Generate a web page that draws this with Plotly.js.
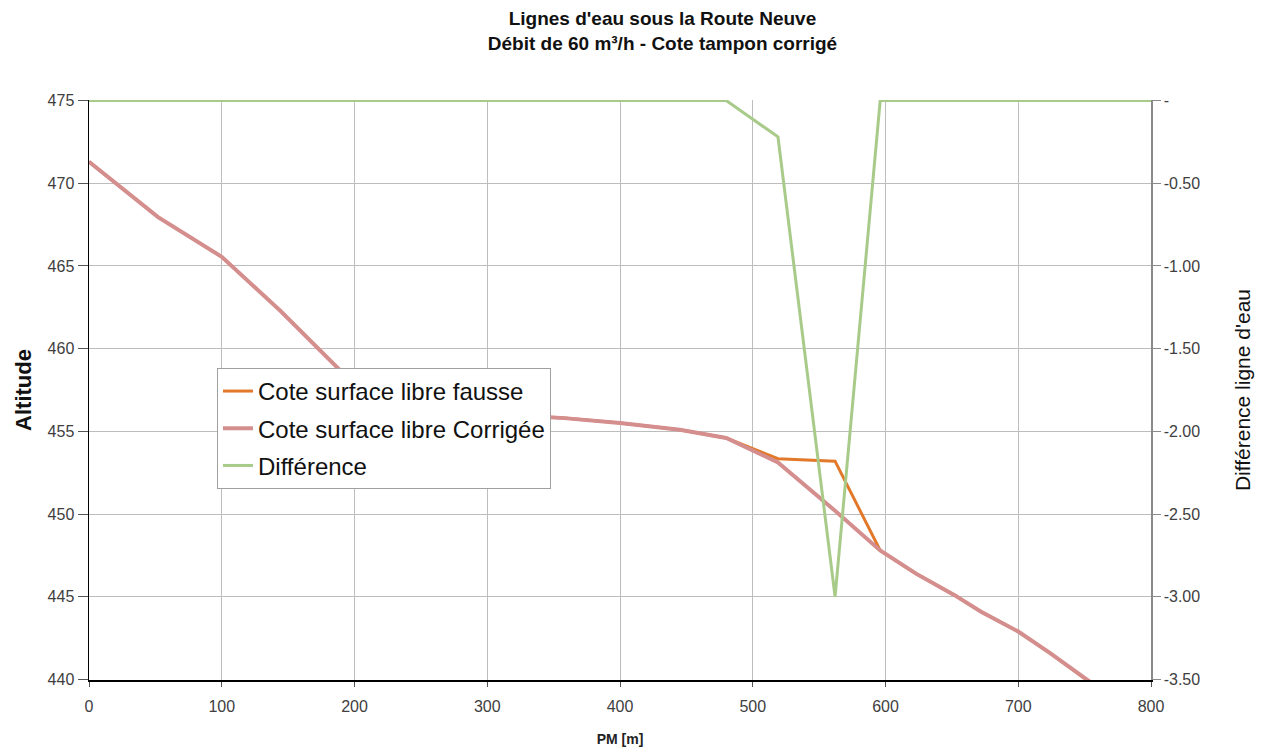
<!DOCTYPE html>
<html>
<head>
<meta charset="utf-8">
<script src="https://cdn.plot.ly/plotly-3.0.1.min.js"></script>
<style>html,body{margin:0;padding:0;background:#fff;}#chart{width:1269px;height:754px;}</style>
</head>
<body>
<div id="chart"></div>
<script>
// PM [m]
var pm = [0, 52, 100, 144, 189, 212, 250, 300, 358, 400, 445, 480, 519, 562, 596, 623, 652, 672, 700, 724, 751, 800];
// Cote surface libre fausse
var coteFausse = [471.3, 467.95, 465.55, 462.3, 458.7, 456.9, 456.3, 456.05, 455.8, 455.5, 455.1, 454.6, 453.35, 453.2, 447.8, 446.4, 445.1, 444.1, 442.9, 441.6, 440.0, 437.2];
// Cote surface libre Corrigée
var coteCorrigee = [471.3, 467.95, 465.55, 462.3, 458.7, 456.9, 456.3, 456.05, 455.8, 455.5, 455.1, 454.6, 453.12, 450.2, 447.8, 446.4, 445.1, 444.1, 442.9, 441.6, 440.0, 437.2];
// Différence
var difference = [0, 0, 0, 0, 0, 0, 0, 0, 0, 0, 0, 0, -0.22, -3.0, 0, 0, 0, 0, 0, 0, 0, 0];

var xTicks = [0, 100, 200, 300, 400, 500, 600, 700, 800];
var yTicks = [440, 445, 450, 455, 460, 465, 470, 475];
var y2Ticks = [0, -0.5, -1, -1.5, -2, -2.5, -3, -3.5];
var y2TickText = ['-', '-0.50', '-1.00', '-1.50', '-2.00', '-2.50', '-3.00', '-3.50'];

var fontFam = 'Liberation Sans, Arial, sans-serif';

var traces = [
  {x: pm, y: coteFausse, name: 'Cote surface libre fausse', type: 'scatter', mode: 'lines',
   line: {color: '#E2792A', width: 3}, legendgroup: 'a'},
  {x: pm, y: coteCorrigee, name: 'Cote surface libre Corrigée', type: 'scatter', mode: 'lines',
   line: {color: '#D48E8E', width: 4}, legendgroup: 'b'},
  {x: pm, y: difference, name: 'Différence', type: 'scatter', mode: 'lines', yaxis: 'y2',
   line: {color: '#A8CB8A', width: 3}, legendgroup: 'c'}
];

var layout = {
  width: 1269, height: 754,
  margin: {l: 89, r: 118, t: 100, b: 74},
  paper_bgcolor: '#fff', plot_bgcolor: '#fff',
  font: {family: fontFam, color: '#404040', size: 16},
  title: {
    text: '<b>Lignes d\'eau sous la Route Neuve<br>Débit de 60 m³/h - Cote tampon corrigé</b>',
    font: {family: 'Liberation Sans Narrow, Arial Narrow, Liberation Sans, Arial, sans-serif', size: 19, color: '#111'},
    x: 0.54, xref: 'paper', xanchor: 'center', yref: 'container', y: 0.967, yanchor: 'middle'
  },
  xaxis: {
    range: [0, 800], tickvals: xTicks, ticktext: xTicks.map(String),
    showgrid: true, gridcolor: '#bdbdbd', gridwidth: 1,
    showline: true, linecolor: '#000', linewidth: 1.5,
    ticks: 'outside', ticklen: 5, tickcolor: '#555', ticklabelstandoff: 6,
    zeroline: false,
    title: {text: '<b>PM [m]</b>', font: {size: 14, color: '#222'}, standoff: 20},
    tickfont: {size: 16, color: '#404040'}
  },
  yaxis: {
    range: [439.97, 475.03], tickvals: yTicks, ticktext: yTicks.map(String),
    showgrid: true, gridcolor: '#bdbdbd', gridwidth: 1,
    showline: true, linecolor: '#000', linewidth: 1.5,
    ticks: 'outside', ticklen: 10, tickcolor: '#555',
    zeroline: false,
    title: {text: '<b>Altitude</b>', font: {size: 22, color: '#111'}, standoff: 10},
    tickfont: {size: 16, color: '#404040'}
  },
  yaxis2: {
    overlaying: 'y', side: 'right',
    range: [-3.503, 0.003], tickvals: y2Ticks, ticktext: y2TickText,
    showgrid: false, showline: true, linecolor: '#8a8a8a', linewidth: 1.5,
    ticks: 'outside', ticklen: 8, tickcolor: '#8a8a8a',
    zeroline: false,
    title: {text: 'Différence ligne d\'eau', font: {size: 21, color: '#111'}, standoff: 36},
    tickfont: {size: 16, color: '#404040'}
  },
  showlegend: true,
  legend: {
    x: 0.1205, y: 0.538, xanchor: 'left', yanchor: 'top',
    bgcolor: '#fff', bordercolor: '#a0a0a0', borderwidth: 1,
    font: {size: 24, color: '#111', family: fontFam},
    traceorder: 'grouped', tracegroupgap: 3,
    itemwidth: 30
  }
};

Plotly.newPlot('chart', traces, layout, {displayModeBar: false, staticPlot: true});
</script>
</body>
</html>
